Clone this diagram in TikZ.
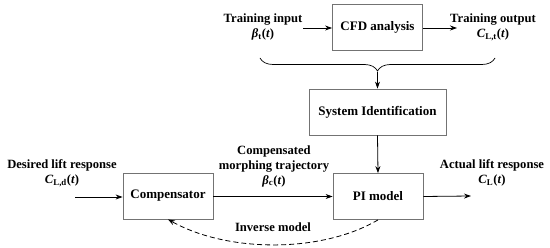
\documentclass[tikz,border=0pt]{standalone}
\usepackage{fontspec}
\setmainfont{Liberation Serif}
\usetikzlibrary{arrows.meta,decorations.pathreplacing}
\begin{document}
\begin{tikzpicture}[x=1pt,y=-1pt,
  blk/.style={draw=black!55, line width=0.8pt, minimum width=90pt, minimum height=46pt, inner sep=0pt, font=\fontsize{13}{15}\selectfont\bfseries},
  lbl/.style={align=center, font=\fontsize{12.6}{15}\selectfont\bfseries, inner sep=0pt},
  arr/.style={-{Stealth[length=7pt,width=5pt]}, line width=0.8pt},
]
\useasboundingbox (0,0) rectangle (550,248);
\node[blk] (cfd) at (377.5,27) {CFD analysis};
\node[blk, minimum width=137pt] (sid) at (377.5,112) {System Identification};
\node[blk] (pi) at (378,196.5) {PI model};
\node[blk] (comp) at (168,196) {Compensator};

\node[lbl] (tin) at (263,27) {Training input\\\textit{β}\textsubscript{t}(\textit{t})};
\node[lbl] (tout) at (493,27) {Training output\\\textit{C}\textsubscript{L,t}(\textit{t})};
\node[lbl] (des) at (62,173) {Desired lift response\\\textit{C}\textsubscript{L,d}(\textit{t})};
\node[lbl] (act) at (492,173) {Actual lift response\\\textit{C}\textsubscript{L}(\textit{t})};
\node[lbl] (cmt) at (274,166) {Compensated\\morphing trajectory\\\textit{β}\textsubscript{c}(\textit{t})};
\node[lbl] (inv) at (273,227) {Inverse model};

\coordinate (tina) at (303,28);
\coordinate (touta) at (457,28);
\coordinate (desa) at (75,197);
\coordinate (acta) at (471,196);
\coordinate (bl) at (260,58);
\coordinate (br) at (495,58);
\coordinate (btip) at (377.5,72);

\draw[arr] (tina) -- (cfd.west |- tina);
\draw[arr] (cfd.east |- touta) -- (touta);
\draw[line width=0.7pt, decorate, decoration={brace, mirror, amplitude=13pt, raise=0pt}] (bl) -- (br);
\draw[arr] (btip) -- (sid.north);
\draw[arr] (sid.south) -- (pi.north);
\draw[arr] (desa) -- (comp.west |- desa);
\draw[arr] (comp.east |- pi.west) -- (pi.west);
\draw[arr] (pi.east) -- (acta);
\draw[arr, dashed, dash pattern=on 5pt off 3pt] (pi.south) .. controls (322,253) and (228,253) .. (comp.south);
\end{tikzpicture}
\end{document}
